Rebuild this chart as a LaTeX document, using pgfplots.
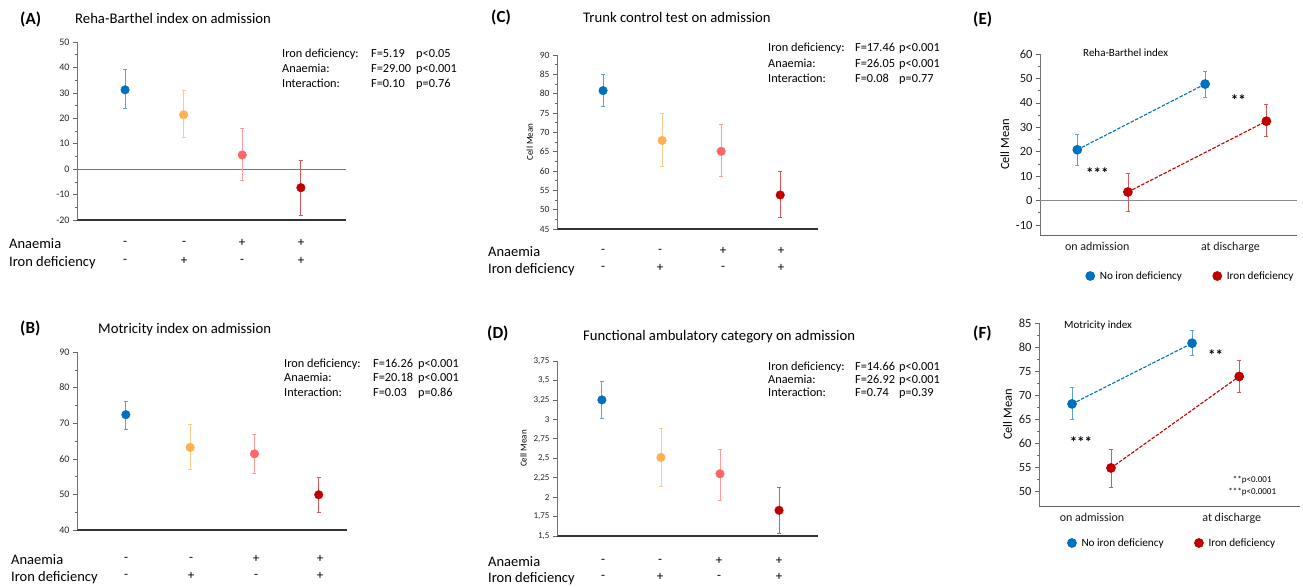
\documentclass[border=0pt]{standalone}
\usepackage{fontspec}
\setmainfont{Carlito}
\usepackage{pgfplots}
\pgfplotsset{compat=1.18}
\definecolor{cblue}{HTML}{0070C0}
\definecolor{corange}{HTML}{FFB050}
\definecolor{cpink}{HTML}{FF6666}
\definecolor{cdark}{HTML}{C00000}
\newcommand\fPanel{\fontsize{17}{19}\selectfont\bfseries}
\newcommand\fTitle{\fontsize{14.7}{17}\selectfont}
\newcommand\fStat{\fontsize{12.3}{14}\selectfont}
\newcommand\fRow{\fontsize{14.5}{17}\selectfont}
\newcommand\fSign{\fontsize{13}{15}\selectfont}
\pgfplotsset{
 pt/.style={only marks, mark=*, mark size=4.3pt, color=#1, error bars/.cd, y dir=both, y explicit,
   error bar style={line width=0.8pt, #1!65}, error mark options={rotate=90, mark size=2pt, line width=0.6pt, #1!65}},
 ln/.style={color=#1, dash pattern=on 3.5pt off 1.5pt, line width=1.1pt, mark=*, mark size=4.3pt, mark options={solid},
   error bars/.cd, y dir=both, y explicit,
   error bar style={line width=0.8pt, solid, #1!65}, error mark options={rotate=90, mark size=2pt, line width=0.6pt, solid, #1!65}},
 base/.style={scale only axis, anchor=south west, axis lines*=left, clip=false,
   x axis line style={line width=1.2pt, black!80},
   y axis line style={line width=0.8pt, black!55},
   tick align=outside, major tick length=4pt, minor tick length=2pt,
   ytick style={black!60, line width=0.6pt},
   minor y tick num=1,
   xtick style={draw=none},
   /pgf/number format/assume math mode=true,
   yticklabel style={font=\fontsize{10}{12}\selectfont, text=black!85},
 },
 right/.style={base,
   x axis line style={line width=0.8pt, black!60},
   yticklabel style={font=\fontsize{12.5}{14}\selectfont, text=black!90},
   xticklabel style={font=\fontsize{12}{14}\selectfont, text=black!90},
   ylabel style={font=\fontsize{12.5}{14}\selectfont},
   legend style={draw=none, fill=none, legend columns=2, font=\fontsize{11.2}{13}\selectfont, inner sep=0pt,
     /tikz/every even column/.append style={column sep=29pt}},
   legend image code/.code={\draw[#1] plot coordinates {(0pt,0pt)}; \path (7pt,0pt);},
 },
}
\begin{document}
\begin{tikzpicture}
\path[use as bounding box] (0,0) rectangle (1303pt,-586pt);

% ---------- (A)
\begin{axis}[base, at={(77pt,-220pt)}, width=269pt, height=178pt,
  xmin=-0.82, xmax=3.77, ymin=-20, ymax=50, ytick={-20,-10,...,50}, xtick=\empty]
\draw[black!55, line width=1pt] (axis cs:-0.82,0) -- (axis cs:3.77,0);
\addplot[pt=cblue] coordinates {(0,31.2) += (0,7.9) -= (0,7.1)};
\addplot[pt=corange] coordinates {(1,21.4) += (0,9.8) -= (0,9.0)};
\addplot[pt=cpink] coordinates {(2,5.6) += (0,10.5) -= (0,10.1)};
\addplot[pt=cdark] coordinates {(3,-7.3) += (0,10.9) -= (0,10.8)};
\end{axis}

% ---------- (B)
\begin{axis}[base, at={(77pt,-530pt)}, width=270pt, height=178pt,
  xmin=-0.76, xmax=3.44, ymin=40, ymax=90, ytick={40,50,...,90}, xtick=\empty]
\addplot[pt=cblue] coordinates {(0,72.4) += (0,3.7) -= (0,4.0)};
\addplot[pt=corange] coordinates {(1,63.2) += (0,6.4) -= (0,6.2)};
\addplot[pt=cpink] coordinates {(2,61.4) += (0,5.4) -= (0,5.5)};
\addplot[pt=cdark] coordinates {(3,49.9) += (0,4.9) -= (0,5.0)};
\end{axis}

% ---------- (C)
\begin{axis}[base, at={(557pt,-229pt)}, width=261pt, height=174pt,
  xmin=-0.78, xmax=3.64, ymin=45, ymax=90, ytick={45,50,...,90}, xtick=\empty,
  yticklabel style={font=\fontsize{9.5}{11}\selectfont},
  ylabel={Cell Mean}, ylabel style={font=\fontsize{9}{11}\selectfont}]
\addplot[pt=cblue] coordinates {(0,80.8) += (0,4.1) -= (0,4.0)};
\addplot[pt=corange] coordinates {(1,67.9) += (0,6.9) -= (0,6.6)};
\addplot[pt=cpink] coordinates {(2,65.1) += (0,7.0) -= (0,6.4)};
\addplot[pt=cdark] coordinates {(3,53.8) += (0,6.0) -= (0,5.7)};
\end{axis}

% ---------- (D)
\begin{axis}[base, at={(557pt,-536pt)}, width=261pt, height=175pt,
  xmin=-0.76, xmax=3.66, ymin=1.5, ymax=3.75, ytick={1.5,1.75,2,2.25,2.5,2.75,3,3.25,3.5,3.75}, xtick=\empty,
  minor y tick num=0, /pgf/number format/use comma,
  yticklabel style={font=\fontsize{9}{11}\selectfont},
  ylabel={Cell Mean}, ylabel style={font=\fontsize{9}{11}\selectfont}]
\addplot[pt=cblue] coordinates {(0,3.25) += (0,0.24) -= (0,0.24)};
\addplot[pt=corange] coordinates {(1,2.51) += (0,0.377) -= (0,0.366)};
\addplot[pt=cpink] coordinates {(2,2.30) += (0,0.32) -= (0,0.336)};
\addplot[pt=cdark] coordinates {(3,1.83) += (0,0.29) -= (0,0.29)};
\end{axis}

% ---------- (E)
\begin{axis}[right, at={(1040pt,-235pt)}, width=257pt, height=181pt,
  xmin=-0.47, xmax=1.46, ymin=-14.1, ymax=60, ytick={-10,0,...,60},
  xtick={-0.04,0.96}, xticklabels={on admission, at discharge},
  ylabel={Cell Mean},
  legend style={at={(0.178,-0.2265)}, anchor=west}]
\draw[black!45, line width=0.7pt] (axis cs:-0.47,0) -- (axis cs:1.46,0);
\addplot[ln=cblue] coordinates {(-0.19,20.8) += (0,6.4) -= (0,6.4) (0.77,47.7) += (0,5.1) -= (0,5.3)};
\addplot[ln=cdark] coordinates {(0.19,3.5) += (0,7.7) -= (0,7.7) (1.23,32.5) += (0,6.9) -= (0,6.0)};
\legend{No iron deficiency, Iron deficiency}
\node[font=\fontsize{15}{17}\selectfont\bfseries] at (axis cs:-0.04,11.3) {***};
\node[font=\fontsize{15}{17}\selectfont\bfseries] at (axis cs:1.02,41) {**};
\end{axis}

% ---------- (F)
\begin{axis}[right, at={(1039pt,-506pt)}, width=261pt, height=183pt,
  xmin=-0.423, xmax=1.68, ymin=47, ymax=85, ytick={50,55,...,85},
  xtick={0.004,1.13}, xticklabels={on admission, at discharge},
  ylabel={Cell Mean},
  legend style={at={(0.109,-0.202)}, anchor=west}]
\addplot[ln=cblue] coordinates {(-0.157,68.2) += (0,3.4) -= (0,3.1) (0.81,80.8) += (0,2.7) -= (0,2.5)};
\addplot[ln=cdark] coordinates {(0.157,54.9) += (0,3.8) -= (0,4.1) (1.19,73.9) += (0,3.4) -= (0,3.2)};
\legend{No iron deficiency, Iron deficiency}
\node[font=\fontsize{15}{17}\selectfont\bfseries] at (axis cs:-0.085,60.2) {***};
\node[font=\fontsize{15}{17}\selectfont\bfseries] at (axis cs:1.0,78.4) {**};
\node[font=\fontsize{9}{11}\selectfont] at (axis cs:1.295,52.4) {**p<0.001};
\node[font=\fontsize{9}{11}\selectfont] at (axis cs:1.295,49.9) {***p<0.0001};
\end{axis}

% ---------- texts
\node[anchor=base west, font=\fPanel, inner sep=0pt] at (20pt,-24.3pt) {(A)};
\node[anchor=base west, font=\fTitle, inner sep=0pt] at (75pt,-24pt) {Reha-Barthel index on admission};
\node[anchor=base west, font=\fPanel, inner sep=0pt] at (20pt,-333pt) {(B)};
\node[anchor=base west, font=\fTitle, inner sep=0pt] at (98pt,-333pt) {Motricity index on admission};
\node[anchor=base west, font=\fPanel, inner sep=0pt] at (491pt,-23pt) {(C)};
\node[anchor=base west, font=\fTitle, inner sep=0pt] at (583pt,-23pt) {Trunk control test on admission};
\node[anchor=base west, font=\fPanel, inner sep=0pt] at (487pt,-338pt) {(D)};
\node[anchor=base west, font=\fTitle, inner sep=0pt] at (583pt,-340pt) {Functional ambulatory category on admission};
\node[anchor=base west, font=\fPanel, inner sep=0pt] at (973pt,-25pt) {(E)};
\node[anchor=base west, font=\fontsize{11}{13}\selectfont, inner sep=0pt] at (1083pt,-56.6pt) {Reha-Barthel index};
\node[anchor=base west, font=\fPanel, inner sep=0pt] at (973pt,-338pt) {(F)};
\node[anchor=base west, font=\fontsize{11}{13}\selectfont, inner sep=0pt] at (1064pt,-328.6pt) {Motricity index};

% stats
\begin{scope}[every node/.style={anchor=base west, font=\fStat, inner sep=0pt}]
\node at (282pt,-57pt) {Iron deficiency:}; \node at (371pt,-57pt) {F=5.19}; \node at (416pt,-57pt) {p<0.05};
\node at (282pt,-72pt) {Anaemia:}; \node at (371pt,-72pt) {F=29.00}; \node at (416pt,-72pt) {p<0.001};
\node at (282pt,-87pt) {Interaction:}; \node at (371pt,-87pt) {F=0.10}; \node at (416pt,-87pt) {p=0.76};
\node at (284pt,-367pt) {Iron deficiency:}; \node at (373pt,-367pt) {F=16.26}; \node at (418pt,-367pt) {p<0.001};
\node at (284pt,-381pt) {Anaemia:}; \node at (373pt,-381pt) {F=20.18}; \node at (418pt,-381pt) {p<0.001};
\node at (284pt,-396pt) {Interaction:}; \node at (373pt,-396pt) {F=0.03}; \node at (418pt,-396pt) {p=0.86};
\node at (768pt,-52pt) {Iron deficiency:}; \node at (855pt,-52pt) {F=17.46}; \node at (899pt,-52pt) {p<0.001};
\node at (768pt,-67pt) {Anaemia:}; \node at (855pt,-67pt) {F=26.05}; \node at (899pt,-67pt) {p<0.001};
\node at (768pt,-82pt) {Interaction:}; \node at (855pt,-82pt) {F=0.08}; \node at (899pt,-82pt) {p=0.77};
\node at (768pt,-370pt) {Iron deficiency:}; \node at (855pt,-370pt) {F=14.66}; \node at (899pt,-370pt) {p<0.001};
\node at (768pt,-383pt) {Anaemia:}; \node at (855pt,-383pt) {F=26.92}; \node at (899pt,-383pt) {p<0.001};
\node at (768pt,-396pt) {Interaction:}; \node at (855pt,-396pt) {F=0.74}; \node at (899pt,-396pt) {p=0.39};
\end{scope}

% row labels
\begin{scope}[every node/.style={anchor=base west, font=\fRow, inner sep=0pt}]
\node at (9pt,-248pt) {Anaemia}; \node at (9pt,-266pt) {Iron deficiency};
\node at (11pt,-564pt) {Anaemia}; \node at (11pt,-581pt) {Iron deficiency};
\node at (488pt,-256pt) {Anaemia}; \node at (488pt,-273pt) {Iron deficiency};
\node at (488pt,-566pt) {Anaemia}; \node at (488pt,-582pt) {Iron deficiency};
\end{scope}

% signs
\begin{scope}[every node/.style={anchor=center, font=\fSign, inner sep=0pt}]
\node at (125pt,-243pt) {-}; \node at (184pt,-243pt) {-}; \node at (242pt,-243pt) {+}; \node at (301pt,-243pt) {+};
\node at (125pt,-261pt) {-}; \node at (184pt,-261pt) {+}; \node at (242pt,-261pt) {-}; \node at (301pt,-261pt) {+};
\node at (126pt,-559pt) {-}; \node at (191pt,-559pt) {-}; \node at (256pt,-559pt) {+}; \node at (320pt,-559pt) {+};
\node at (126pt,-576pt) {-}; \node at (191pt,-576pt) {+}; \node at (256pt,-576pt) {-}; \node at (320pt,-576pt) {+};
\node at (603pt,-251pt) {-}; \node at (660pt,-251pt) {-}; \node at (723pt,-251pt) {+}; \node at (781pt,-251pt) {+};
\node at (603pt,-268pt) {-}; \node at (660pt,-268pt) {+}; \node at (723pt,-268pt) {-}; \node at (781pt,-268pt) {+};
\node at (603pt,-561pt) {-}; \node at (660pt,-561pt) {-}; \node at (719pt,-561pt) {+}; \node at (779pt,-561pt) {+};
\node at (603pt,-577pt) {-}; \node at (660pt,-577pt) {+}; \node at (719pt,-577pt) {-}; \node at (779pt,-577pt) {+};
\end{scope}
\end{tikzpicture}
\end{document}
